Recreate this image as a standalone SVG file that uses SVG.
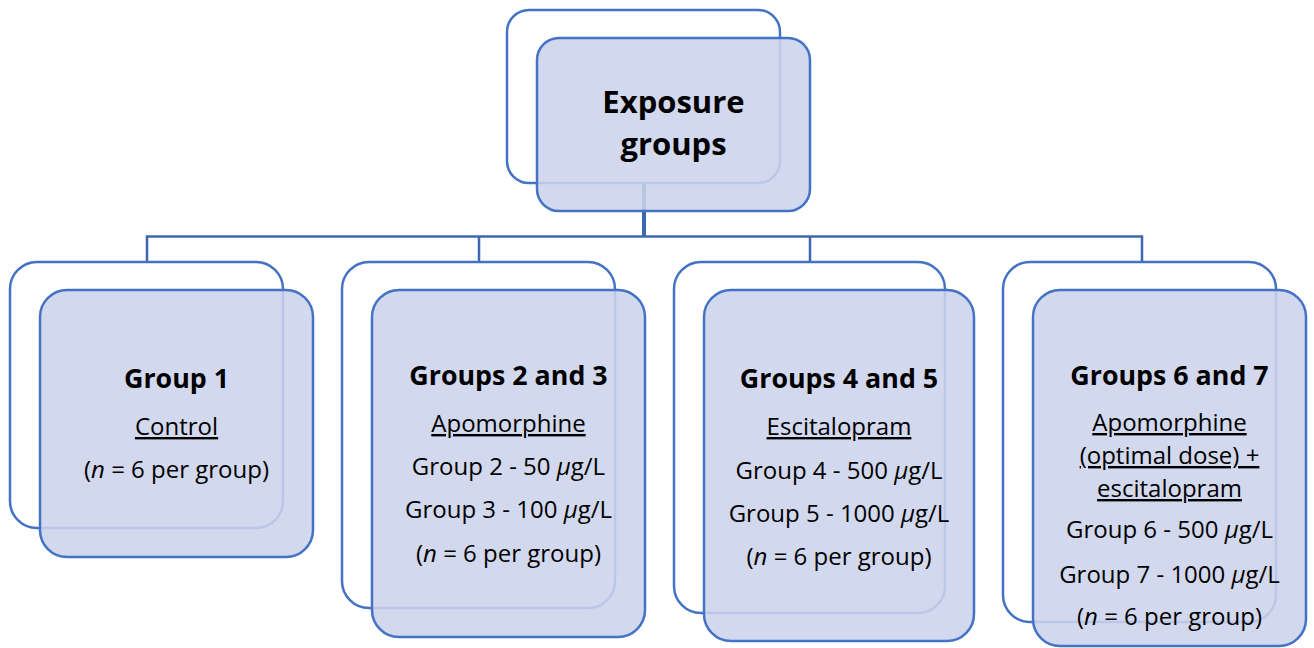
<svg xmlns="http://www.w3.org/2000/svg" width="1314" height="648" viewBox="0 0 1314 648">
<style>
.back{fill:#ffffff;stroke:#4472C4;stroke-width:2.5}
.front{fill:#CCD3EA;fill-opacity:0.88;stroke:#4472C4;stroke-width:2.5}
.conn{fill:none;stroke:#3F66B0;stroke-width:2.5}
text{font-family:"Open Sans","Liberation Sans",sans-serif;fill:#000;text-anchor:middle}
.t{font-size:26.8px;font-weight:bold}
.tt{font-size:31px;font-weight:bold}
.r{font-size:24px}
.u{text-decoration:underline}
.i{font-style:italic}
</style>
<rect width="1314" height="648" fill="#ffffff"/>
<g id="connectors">
<path class="conn" d="M147,262 V236.5 H1142 V262 M479,236.5 V262 M810,236.5 V262"/>
<path class="conn" d="M644,183 V236.5" style="stroke-width:4"/>
</g>
<g id="exposure">
<rect class="back" x="507" y="10" width="273" height="173" rx="22"/>
<rect class="front" x="537" y="38" width="273" height="173" rx="22"/>
<text class="tt" x="673.5" y="113">Exposure</text>
<text class="tt" x="673.5" y="155">groups</text>
</g>
<g id="group1">
<rect class="back" x="10" y="262" width="273" height="266" rx="27"/>
<rect class="front" x="40" y="290" width="273" height="267" rx="27"/>
<text class="t" x="176.5" y="388">Group 1</text>
<text class="r u" x="176.5" y="435">Control</text>
<text class="r" x="176.5" y="478">(<tspan class="i">n</tspan> = 6 per group)</text>
</g>
<g id="groups23">
<rect class="back" x="342" y="262" width="273" height="346" rx="27"/>
<rect class="front" x="372" y="290" width="273" height="347" rx="27"/>
<text class="t" x="508.5" y="385">Groups 2 and 3</text>
<text class="r u" x="508.5" y="432">Apomorphine</text>
<text class="r" x="508.5" y="475">Group 2 - 50 <tspan class="i">μ</tspan>g/L</text>
<text class="r" x="508.5" y="518">Group 3 - 100 <tspan class="i">μ</tspan>g/L</text>
<text class="r" x="508.5" y="562">(<tspan class="i">n</tspan> = 6 per group)</text>
</g>
<g id="groups45">
<rect class="back" x="674" y="262" width="271" height="351" rx="27"/>
<rect class="front" x="704" y="290" width="270" height="351" rx="27"/>
<text class="t" x="839" y="388">Groups 4 and 5</text>
<text class="r u" x="839" y="435">Escitalopram</text>
<text class="r" x="839" y="479">Group 4 - 500 <tspan class="i">μ</tspan>g/L</text>
<text class="r" x="839" y="522">Group 5 - 1000 <tspan class="i">μ</tspan>g/L</text>
<text class="r" x="839" y="565">(<tspan class="i">n</tspan> = 6 per group)</text>
</g>
<g id="groups67">
<rect class="back" x="1003" y="262" width="273" height="360" rx="27"/>
<rect class="front" x="1033" y="290" width="273" height="356" rx="27"/>
<text class="t" x="1169.5" y="385">Groups 6 and 7</text>
<text class="r u" x="1169.5" y="431">Apomorphine</text>
<text class="r u" x="1169.5" y="464">(optimal dose) +</text>
<text class="r u" x="1169.5" y="497">escitalopram</text>
<text class="r" x="1169.5" y="538">Group 6 - 500 <tspan class="i">μ</tspan>g/L</text>
<text class="r" x="1169.5" y="583">Group 7 - 1000 <tspan class="i">μ</tspan>g/L</text>
<text class="r" x="1169.5" y="625">(<tspan class="i">n</tspan> = 6 per group)</text>
</g>
</svg>
